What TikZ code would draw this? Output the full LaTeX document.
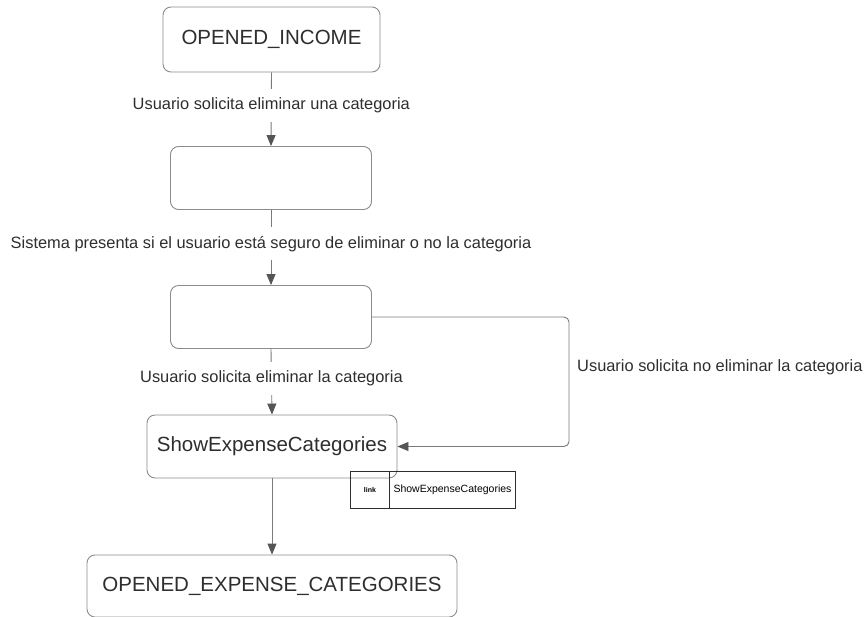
\documentclass[tikz,border=0pt]{standalone}
\usepackage{fontspec}
\setmainfont{Liberation Sans}
\usetikzlibrary{arrows.meta,positioning,calc}
\definecolor{edgegray}{HTML}{7A7A7A}
\definecolor{boxgray}{HTML}{8C8C8C}
\definecolor{inkgray}{HTML}{2E2E2E}
\definecolor{tipgray}{HTML}{555555}
\begin{document}
\begin{tikzpicture}[x=1pt,y=-1pt,
  state/.style={draw=boxgray,line width=0.9pt,rounded corners=8pt,fill=white,
    text=inkgray,font=\fontsize{20.5}{24}\selectfont,inner sep=0pt,anchor=center},
  conn/.style={draw=edgegray,line width=0.9pt,
    -{Triangle[length=11pt,width=9pt,fill=tipgray,color=tipgray]}},
  edgelabel/.style={fill=white,text=inkgray,font=\fontsize{16.4}{19}\selectfont,
    inner xsep=2pt,inner ysep=9pt},
  sidelabel/.style={text=inkgray,font=\fontsize{16.4}{19}\selectfont,inner sep=0pt},
  linkcell/.style={draw=inkgray,line width=1pt,inner sep=0pt,text=black,anchor=north west}]
  \useasboundingbox (0,0) rectangle (866,616);

  % states
  \node[state,minimum width=217pt,minimum height=65pt] (income) at (271.5,39.5) {OPENED\_INCOME};
  \node[state,minimum width=201pt,minimum height=63pt] (confirm) at (271,178) {};
  \node[state,minimum width=201pt,minimum height=63pt] (choice) at (271,317) {};
  \node[state,minimum width=250pt,minimum height=63pt] (show) at (272,446.5) {ShowExpenseCategories};
  \node[state,minimum width=370pt,minimum height=62pt] (expense) at (272,586) {OPENED\_EXPENSE\_CATEGORIES};

  % link badge attached to ShowExpenseCategories
  \node[linkcell,minimum width=39pt,minimum height=37pt,font=\fontsize{7}{8}\selectfont\bfseries] (linktag) at (350,471) {link};
  \node[linkcell,minimum width=126pt,minimum height=37pt,font=\fontsize{10.5}{12}\selectfont] (linkname) at (389,471) {ShowExpenseCategories};

  % transitions
  \draw[conn] (income.south) -- (confirm.north)
    node[edgelabel,pos=0.45] (l1) {Usuario solicita eliminar una categoria};
  \draw[conn] (confirm.south) -- (choice.north)
    node[edgelabel,pos=0.45] (l2) {Sistema presenta si el usuario está seguro de eliminar o no la categoria};
  \draw[conn] (choice.south) -- (show.north)
    node[edgelabel,pos=0.45] (l3) {Usuario solicita eliminar la categoria};
  \coordinate (turn) at (569,317);
  \draw[conn,rounded corners=5pt] (choice.east) -- (turn) |- (show.east);
  \node[sidelabel,anchor=west] (l4) at (577,367) {Usuario solicita no eliminar la categoria};
  \draw[conn] (show.south) -- (expense.north);
\end{tikzpicture}
\end{document}
